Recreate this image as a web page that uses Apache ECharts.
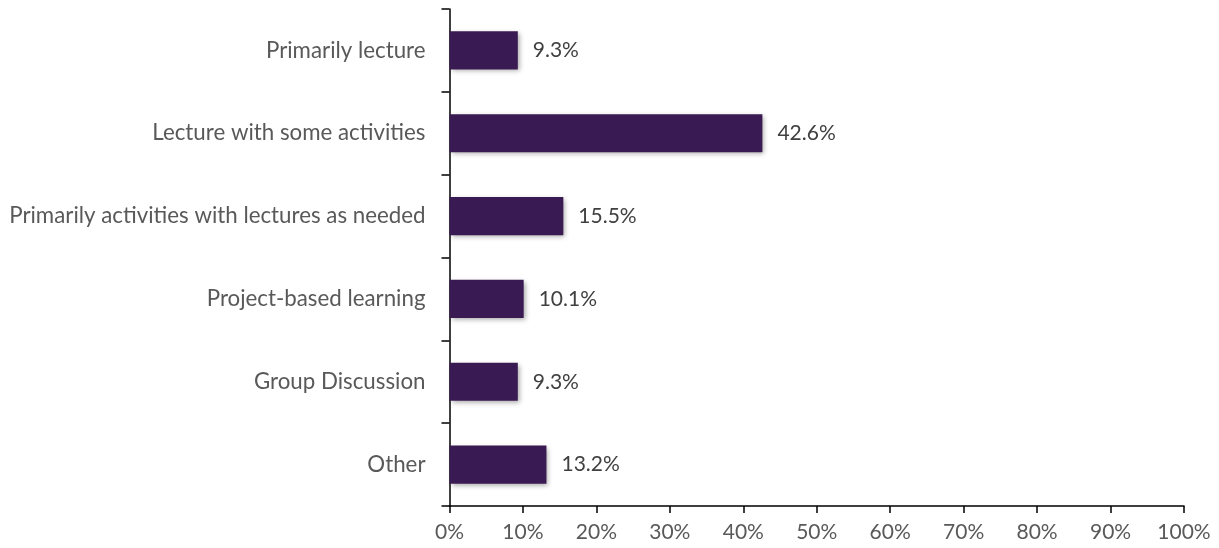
<!DOCTYPE html>
<html><head><meta charset="utf-8">
<script src="https://cdn.jsdelivr.net/npm/echarts@6/dist/echarts.min.js"></script>
<style>html,body{margin:0;padding:0;background:#fff}#c{width:1219px;height:548px}</style>
</head><body><div id="c"></div>
<script>
const categories = ["Primarily lecture","Lecture with some activities","Primarily activities with lectures as needed","Project-based learning","Group Discussion","Other"];
const values = [9.3, 42.6, 15.5, 10.1, 9.3, 13.2];
const xTicks = [0,10,20,30,40,50,60,70,80,90,100];

const chart = echarts.init(document.getElementById('c'));
const font = "Lato, 'Open Sans', sans-serif";
chart.setOption({
  animation:false,
  grid:{left:449.5,right:35,top:9,bottom:42,containLabel:false},
  xAxis:{type:'value',min:0,max:100,interval:10,
    axisLine:{show:true,lineStyle:{color:'#000',width:1.5}},
    axisTick:{show:true,length:7,lineStyle:{color:'#000',width:1.5}},
    splitLine:{show:false},
    axisLabel:{formatter:v=>v+'%',color:'#595959',fontSize:21,fontFamily:font,margin:16}},
  yAxis:{type:'category',data:categories,inverse:true,
    axisLine:{show:true,lineStyle:{color:'#000',width:1.5}},
    axisTick:{show:true,length:8,lineStyle:{color:'#000',width:1.5}},
    axisLabel:{color:'#595959',fontSize:22.3,fontFamily:font,margin:24}},
  series:[{type:'bar',data:values,barWidth:'46%',
    itemStyle:{color:'#3a1a52',shadowColor:'rgba(0,0,0,0.35)',shadowBlur:5,shadowOffsetX:2,shadowOffsetY:2},
    label:{show:true,position:'right',distance:15,formatter:p=>p.value.toFixed(1)+'%',color:'#404040',fontSize:21,fontFamily:font}}]
});
</script></body></html>
